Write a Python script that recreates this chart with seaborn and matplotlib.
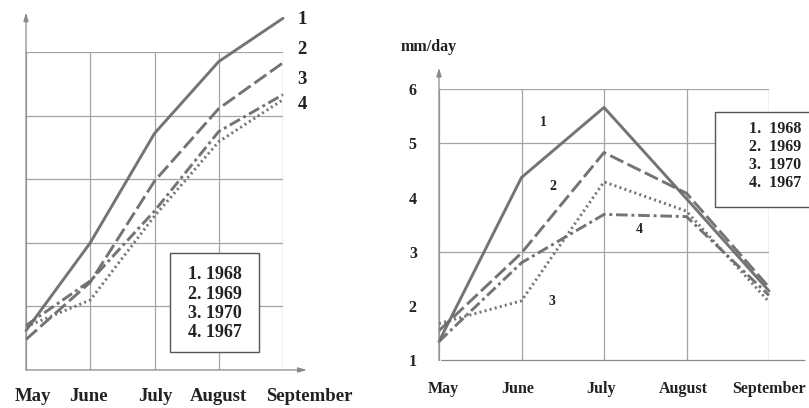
import numpy as np
import pandas as pd
import matplotlib
matplotlib.use("Agg")
import matplotlib.pyplot as plt
from matplotlib.patches import Rectangle
from matplotlib.transforms import ScaledTranslation
import seaborn as sns

# ---- data -------------------------------------------------------------
months = ["May", "June", "July", "August", "September"]
series_names = ["1", "2", "3", "4"]
legend_years = ["1968", "1969", "1970", "1967"]

# cumulative evaporation (relative units), left panel
cum_1968 = [0.62, 2.00, 3.72, 4.85, 5.53]
cum_1969 = [0.48, 1.38, 2.97, 4.11, 4.83]
cum_1970 = [0.68, 1.10, 2.42, 3.59, 4.25]
cum_1967 = [0.70, 1.40, 2.50, 3.75, 4.33]

# daily rate, mm/day, right panel
rate_1968 = [1.35, 4.37, 5.66, 3.98, 2.28]
rate_1969 = [1.55, 2.98, 4.83, 4.08, 2.35]
rate_1970 = [1.68, 2.10, 4.29, 3.75, 2.08]
rate_1967 = [1.35, 2.80, 3.69, 3.65, 2.20]


def long_frame(cols):
    rows = []
    for name, vals in zip(series_names, cols):
        for m, v in zip(months, vals):
            rows.append({"month": m, "value": v, "series": name})
    return pd.DataFrame(rows)


cum_df = long_frame([cum_1968, cum_1969, cum_1970, cum_1967])
rate_df = long_frame([rate_1968, rate_1969, rate_1970, rate_1967])

# ---- style ------------------------------------------------------------
sns.set_style("white")
plt.rcParams["font.family"] = ["Liberation Serif", "DejaVu Serif"]
plt.rcParams["font.weight"] = "bold"

line_grey = "#6c6c6c"
grid_grey = "#a4a4a4"
palette = {s: line_grey for s in series_names}
dashes = {"1": "", "2": (5, 1.6), "3": (0.7, 1.1), "4": (4, 1.3, 1.0, 1.3)}

fig = plt.figure(figsize=(8.09, 4.08), dpi=100)
ax_l = fig.add_axes([26 / 809, 38 / 408, 257 / 809, 318 / 408])
ax_r = fig.add_axes([439 / 809, 47.5 / 408, 330 / 809, 271.5 / 408])


def draw_lines(ax, df):
    sns.lineplot(data=df, x="month", y="value", hue="series", style="series",
                 palette=palette, dashes=dashes, sort=False, legend=False,
                 linewidth=2.1, ax=ax)
    for ln in ax.lines:
        ln.set_clip_on(False)
        ln.set_alpha(0.95)


def offset_labels(ax, shifts):
    for lab, dx in zip(ax.get_xticklabels(), shifts):
        lab.set_transform(lab.get_transform()
                          + ScaledTranslation(dx / 100, 0, fig.dpi_scale_trans))


arrow_kw = dict(arrowstyle="-|>,head_length=0.5,head_width=0.15",
                color="#8a8a8a", lw=0.9, shrinkA=0, shrinkB=0)

# ---- left panel: cumulative ------------------------------------------
draw_lines(ax_l, cum_df)
ax_l.set_xlim(0, 4)
ax_l.set_ylim(0, 5)
ax_l.set_xticks(range(5))
ax_l.set_xticklabels(months, fontsize=13.5, fontweight="bold", color="#222222")
ax_l.set_yticks(range(6))
ax_l.set_yticklabels([])
ax_l.grid(True, color=grid_grey, lw=0.9)
ax_l.tick_params(axis="x", length=4, pad=9, color=grid_grey)
ax_l.tick_params(axis="y", length=4, color=grid_grey)
for sp in ax_l.spines.values():
    sp.set_visible(False)
ax_l.set_xlabel("")
ax_l.set_ylabel("")
offset_labels(ax_l, [7, -2, 1, 0, 26])

ax_l.annotate("", xy=(0, 5.62), xytext=(0, 0), annotation_clip=False,
              arrowprops=arrow_kw)
ax_l.annotate("", xy=(4.37, 0), xytext=(0, 0), annotation_clip=False,
              arrowprops=arrow_kw)

for name, (tx, ty) in zip(series_names,
                          [(4.3, 5.51), (4.3, 5.04), (4.3, 4.57), (4.3, 4.17)]):
    ax_l.text(tx, ty, name, fontsize=13.5, fontweight="bold", color="#222222",
              ha="center", va="center", clip_on=False)

ax_l.add_patch(Rectangle((2.24, 0.28), 1.39, 1.56, facecolor="white",
                         edgecolor="#555555", lw=1.0, zorder=5, clip_on=False))
ax_l.text(2.935, 1.04,
          "\n".join(f"{n}. {y}" for n, y in zip(series_names, legend_years)),
          fontsize=13, fontweight="bold", color="#222222", ha="center",
          va="center", linespacing=1.18, zorder=6)

# ---- right panel: daily rate -----------------------------------------
draw_lines(ax_r, rate_df)
ax_r.set_xlim(0, 4)
ax_r.set_ylim(1, 6)
ax_r.set_xticks(range(5))
ax_r.set_xticklabels(months, fontsize=11.5, fontweight="bold", color="#222222")
ax_r.set_yticks(range(1, 7))
ax_r.set_yticklabels([str(v) for v in range(1, 7)], fontsize=11.5,
                     fontweight="bold", color="#222222")
ax_r.grid(True, axis="x", color=grid_grey, lw=0.9)
for yv in (3, 5, 6):
    ax_r.axhline(yv, color=grid_grey, lw=0.9, zorder=0.5)
ax_r.tick_params(axis="x", length=4, pad=11, color=grid_grey)
ax_r.tick_params(axis="y", length=4, pad=12, color=grid_grey)
for sp in ax_r.spines.values():
    sp.set_visible(False)
ax_r.set_xlabel("")
ax_r.set_ylabel("")
offset_labels(ax_r, [4, -4, -3, -3, 0])

ax_r.annotate("", xy=(0, 6.39), xytext=(0, 1), annotation_clip=False,
              arrowprops=arrow_kw)
ax_r.annotate("", xy=(4.47, 1), xytext=(0, 1), annotation_clip=False,
              arrowprops=dict(arrowstyle="-", color="#8a8a8a", lw=0.9))

ax_r.text(-0.13, 6.77, "mm/day", fontsize=11.5, fontweight="bold",
          color="#222222", ha="center", va="center", clip_on=False)

for name, (tx, ty) in zip(series_names,
                          [(1.26, 5.39), (1.38, 4.21), (1.37, 2.08), (2.43, 3.42)]):
    ax_r.text(tx, ty, name, fontsize=10, fontweight="bold", color="#222222",
              ha="center", va="center")

ax_r.add_patch(Rectangle((3.34, 3.83), 1.2, 1.75, facecolor="white",
                         edgecolor="#555555", lw=1.0, zorder=5, clip_on=False))
ax_r.text(4.39, 4.765,
          "\n".join(f"{n}.  {y}" for n, y in zip(series_names, legend_years)),
          fontsize=11.5, fontweight="bold", color="#222222", ha="right",
          va="center", multialignment="right", linespacing=1.15, zorder=6,
          clip_on=False)

fig.savefig("out.png", dpi=100)
